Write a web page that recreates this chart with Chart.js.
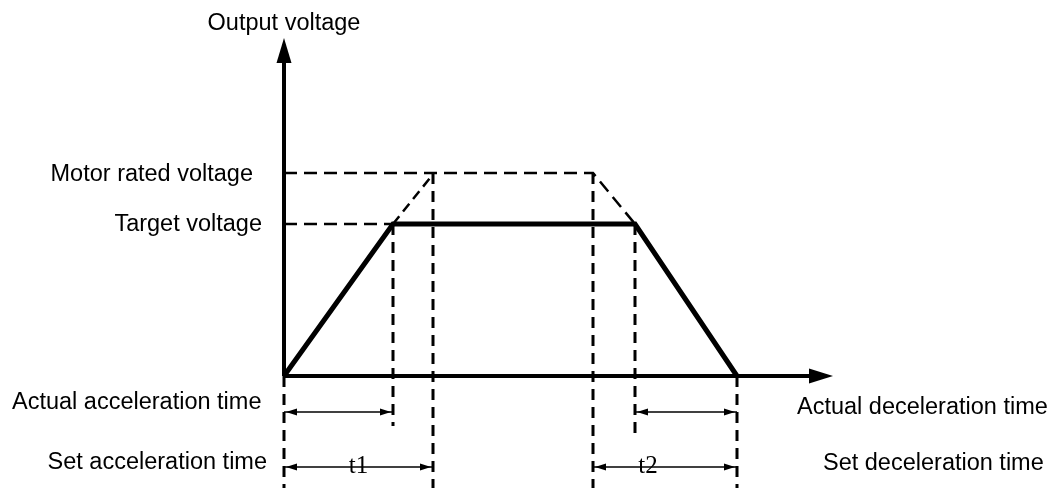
<!DOCTYPE html>
<html>
<head>
<meta charset="utf-8">
<script src="https://cdn.jsdelivr.net/npm/chart.js@4/dist/chart.umd.min.js"></script>
<style>
  html, body { margin: 0; padding: 0; background: #fff; }
</style>
</head>
<body>
<canvas id="myChart" width="1064" height="488"></canvas>
<script>
// actual output voltage profile (time, voltage)
const runTime = [0, 10.9, 35.1, 45.3];
const runVolt = [0, 15.2, 15.2, 0];

// set profile up to motor rated voltage (dashed)
const ratedTime = [0, 30.9, 35.1];
const ratedVolt = [20.3, 20.3, 15.2];
const riseTime = [10.9, 14.6];
const riseVolt = [15.2, 19.8];
const targetTime = [0, 10.9];
const targetVolt = [15.2, 15.2];

// vertical guide lines
const guideX   = [0, 10.9, 14.9, 30.9, 35.1, 45.3];
const guideTop = [0, 15.2, 20.3, 20.3, 15.2, 0];
const guideBot = [-11.2, -5.0, -11.2, -11.2, -5.7, -11.2];

// time spans under the axis: from, to, row
const spanFrom = [0, 0, 35.1, 30.9];
const spanTo   = [10.9, 14.9, 45.3, 45.3];
const spanRow  = [-3.6, -9.1, -3.6, -9.1];
const spanText = ['', 't1', '', 't2'];

const axisEndX = 54.9;
const axisEndY = 33.8;

const pts = (xs, ys) => xs.map((x, i) => ({x: x, y: ys[i]}));

const dashed = (data, w, dash) => ({
  data: data,
  borderColor: '#000',
  borderWidth: w,
  borderDash: dash,
  pointRadius: 0,
  showLine: true,
  fill: false,
  clip: false,
  order: 5
});

let datasets = [
  {
    data: pts(runTime, runVolt),
    borderColor: '#000',
    borderWidth: 5,
    pointRadius: 0,
    showLine: true,
    fill: false,
    clip: false,
    borderJoinStyle: 'miter',
    order: 0
  },
  // axes
  { data: [{x: 0, y: 0}, {x: axisEndX - 2, y: 0}], borderColor: '#000', borderWidth: 4, pointRadius: 0, showLine: true, clip: false, order: 1 },
  { data: [{x: 0, y: 0}, {x: 0, y: axisEndY - 2}], borderColor: '#000', borderWidth: 4, pointRadius: 0, showLine: true, clip: false, order: 1 },
  dashed(pts(ratedTime, ratedVolt), 2.5, [13, 7]),
  dashed(pts(riseTime, riseVolt), 2.5, [10, 6]),
  dashed(pts(targetTime, targetVolt), 2.5, [13, 7])
];
guideX.forEach((x, i) => {
  datasets.push(dashed([{x: x, y: guideTop[i]}, {x: x, y: guideBot[i]}], 3, [11, 7]));
});
spanFrom.forEach((x, i) => {
  datasets.push({
    data: [{x: x, y: spanRow[i]}, {x: spanTo[i], y: spanRow[i]}],
    borderColor: '#000', borderWidth: 1.5, pointRadius: 0, showLine: true, clip: false, order: 2
  });
});

function head(ctx, x, y, dx, dy, len, half) {
  ctx.beginPath();
  ctx.moveTo(x, y);
  ctx.lineTo(x - dx * len - dy * half, y - dy * len + dx * half);
  ctx.lineTo(x - dx * len + dy * half, y - dy * len - dx * half);
  ctx.closePath();
  ctx.fill();
}

const decor = {
  id: 'decor',
  afterDatasetsDraw(chart) {
    const ctx = chart.ctx;
    const xs = chart.scales.x, ys = chart.scales.y;
    const x0 = xs.getPixelForValue(0), y0 = ys.getPixelForValue(0);
    ctx.save();
    ctx.fillStyle = '#000';
    // axis arrows
    head(ctx, xs.getPixelForValue(axisEndX), y0, 1, 0, 24, 7.5);
    head(ctx, x0, ys.getPixelForValue(axisEndY), 0, -1, 25, 7.5);
    // span arrows
    spanFrom.forEach((a, i) => {
      const y = ys.getPixelForValue(spanRow[i]);
      const xa = xs.getPixelForValue(a) + 2, xb = xs.getPixelForValue(spanTo[i]) - 2;
      head(ctx, xa, y, -1, 0, 11, 3.5);
      head(ctx, xb, y, 1, 0, 11, 3.5);
      if (spanText[i]) {
        ctx.font = '25px "Liberation Serif"';
        ctx.textAlign = 'center';
        ctx.textBaseline = 'alphabetic';
        ctx.fillText(spanText[i], (xa + xb) / 2 + (i === 1 ? 0 : -17), y + 6);
      }
    });
    // labels
    ctx.font = '23.5px "Liberation Sans", Arial, sans-serif';
    ctx.textBaseline = 'middle';
    ctx.textAlign = 'center';
    ctx.fillText('Output voltage', x0, 24);
    ctx.textAlign = 'right';
    ctx.fillText('Motor rated voltage', x0 - 31, ys.getPixelForValue(ratedVolt[0]) + 2);
    ctx.fillText('Target voltage', x0 - 22, ys.getPixelForValue(targetVolt[0]) + 1);
    ctx.fillText('Set acceleration time', x0 - 17, ys.getPixelForValue(spanRow[1]) - 4);
    ctx.textAlign = 'left';
    ctx.fillText('Actual acceleration time', 12, ys.getPixelForValue(spanRow[0]) - 9);
    ctx.fillText('Actual deceleration time', 797, ys.getPixelForValue(spanRow[2]) - 4);
    ctx.fillText('Set deceleration time', 823, ys.getPixelForValue(spanRow[3]) - 3);
    ctx.restore();
  }
};

const ctx = document.getElementById('myChart');
new Chart(ctx, {
  type: 'scatter',
  data: { datasets: datasets },
  options: {
    responsive: false,
    animation: false,
    layout: { padding: 0 },
    plugins: { legend: { display: false }, tooltip: { enabled: false } },
    scales: {
      x: { type: 'linear', min: -28.4, max: 78.0, display: false },
      y: { type: 'linear', min: -11.2, max: 37.6, display: false }
    }
  },
  plugins: [decor]
});
</script>
</body>
</html>
